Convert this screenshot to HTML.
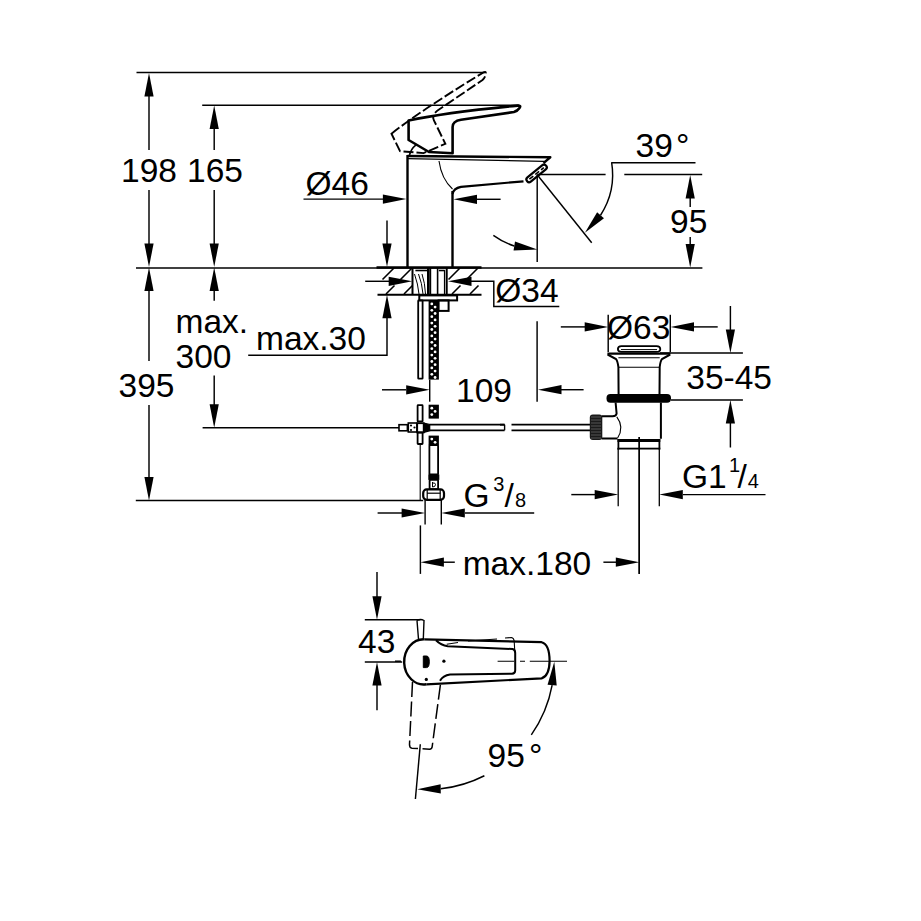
<!DOCTYPE html>
<html><head><meta charset="utf-8"><style>
html,body{margin:0;padding:0;background:#fff;width:921px;height:921px;overflow:hidden}
svg{display:block}
text{font-family:"Liberation Sans",sans-serif;fill:#000;stroke:none}
</style></head><body>
<svg width="921" height="921" viewBox="0 0 921 921" stroke="#000" stroke-linecap="butt" fill="none">
<line x1="136.5" y1="72.5" x2="484.5" y2="72.5" stroke-width="1.45" />
<line x1="202.2" y1="105.2" x2="519" y2="105.2" stroke-width="1.45" />
<line x1="136" y1="267.9" x2="702.4" y2="267.9" stroke-width="1.5" />
<line x1="376.5" y1="267.5" x2="481.5" y2="267.5" stroke-width="2.4" />
<polygon points="149.00,73.00 153.60,96.50 144.40,96.50" fill="#000" stroke="none"/>
<line x1="149" y1="96" x2="149" y2="150" stroke-width="1.45" />
<line x1="149" y1="190" x2="149" y2="244" stroke-width="1.45" />
<polygon points="149.00,267.00 144.40,243.50 153.60,243.50" fill="#000" stroke="none"/>
<polygon points="214.20,105.50 218.80,129.00 209.60,129.00" fill="#000" stroke="none"/>
<line x1="214.2" y1="128" x2="214.2" y2="150" stroke-width="1.45" />
<line x1="214.2" y1="190" x2="214.2" y2="244" stroke-width="1.45" />
<polygon points="214.20,267.00 209.60,243.50 218.80,243.50" fill="#000" stroke="none"/>
<text x="121" y="181.70000000000002" font-size="33.5" >198</text>
<text x="187" y="181.70000000000002" font-size="33.5" >165</text>
<polygon points="149.00,267.50 153.60,291.00 144.40,291.00" fill="#000" stroke="none"/>
<line x1="149" y1="290" x2="149" y2="361" stroke-width="1.45" />
<line x1="149" y1="405" x2="149" y2="478" stroke-width="1.45" />
<polygon points="149.00,500.40 144.40,476.90 153.60,476.90" fill="#000" stroke="none"/>
<line x1="135.8" y1="500.4" x2="423.2" y2="500.4" stroke-width="1.45" />
<text x="118.5" y="397.2" font-size="33.5" >395</text>
<polygon points="214.20,267.50 218.80,291.00 209.60,291.00" fill="#000" stroke="none"/>
<line x1="214.2" y1="290" x2="214.2" y2="300.7" stroke-width="1.45" />
<line x1="214.2" y1="375.6" x2="214.2" y2="405" stroke-width="1.45" />
<polygon points="214.20,427.70 209.60,404.20 218.80,404.20" fill="#000" stroke="none"/>
<line x1="202.6" y1="427.7" x2="399" y2="427.7" stroke-width="1.45" />
<text x="175.5" y="333.4" font-size="33.5" >max.</text>
<text x="175.5" y="367.9" font-size="33.5" >300</text>
<polyline points="248.2,355.2 387,355.2 387,317" stroke-width="1.45" fill="none" />
<polygon points="387.00,294.70 391.60,318.20 382.40,318.20" fill="#000" stroke="none"/>
<line x1="387" y1="220.4" x2="387" y2="244" stroke-width="1.45" />
<polygon points="387.00,267.00 382.40,243.50 391.60,243.50" fill="#000" stroke="none"/>
<text x="256" y="350.0" font-size="33.5" >max.30</text>
<line x1="365.2" y1="281.3" x2="390" y2="281.3" stroke-width="1.45" />
<polygon points="412.20,281.30 388.70,285.90 388.70,276.70" fill="#000" stroke="none"/>
<polygon points="448.00,281.30 471.50,276.70 471.50,285.90" fill="#000" stroke="none"/>
<polyline points="470,281.3 493.8,281.3 493.8,306.5 559.3,306.5" stroke-width="1.45" fill="none" />
<text x="495.2" y="302.4" font-size="33.5" >Ø34</text>
<line x1="377.5" y1="294.7" x2="481.5" y2="294.7" stroke-width="2" />
<line x1="394" y1="268" x2="382.5" y2="279.5" stroke-width="1.6" />
<line x1="412" y1="268" x2="400.5" y2="279.5" stroke-width="1.6" />
<line x1="394.5" y1="285.5" x2="386" y2="294" stroke-width="1.6" />
<line x1="412.5" y1="285.5" x2="404" y2="294" stroke-width="1.6" />
<line x1="460" y1="268" x2="448.5" y2="279.5" stroke-width="1.6" />
<line x1="478" y1="268" x2="466.5" y2="279.5" stroke-width="1.6" />
<line x1="460.5" y1="285.5" x2="452" y2="294" stroke-width="1.6" />
<line x1="478.5" y1="285.5" x2="470" y2="294" stroke-width="1.6" />
<line x1="407.5" y1="155" x2="407.5" y2="267" stroke-width="2.4" />
<line x1="452.5" y1="191" x2="452.5" y2="267" stroke-width="2.4" />
<path d="M407.5,156 L550.3,157.3 L543.5,163" stroke-width="2.4" fill="none" stroke-linejoin="round"/>
<path d="M407.5,158.6 L544,161.3" stroke-width="1.2" fill="none" />
<rect x="524.35" y="170.70" width="24.5" height="5.4" rx="2.6" fill="none" stroke-width="2.2" transform="rotate(-39 536.6 173.4)"/>
<line x1="527.35" y1="173.4" x2="545.85" y2="173.4" stroke-width="1.6" stroke-dasharray="5 2.5" transform="rotate(-39 536.6 173.4)"/>
<path d="M523.5,181.3 L461,186.8 Q453.5,188.3 452.5,194" stroke-width="2.2" fill="none" />
<path d="M439,161 Q441.5,179 452.5,189" stroke-width="1.1" fill="none" />
<path d="M408.6,120.5 Q445,112.5 517.5,105.6 Q521.5,105.5 519.5,108 Q517.5,111 513.9,112 L461,119.7 Q452.6,121 452.6,127 L452.6,153.2 L429,152 L408.6,140 Z" stroke-width="2.6" fill="none" stroke-linejoin="round"/>
<path d="M409.5,155 Q411,149 416,144.9" stroke-width="1.6" fill="none" />
<path d="M408.6,120.5 Q445,112.5 517.5,105.6 Q521.5,105.5 519.5,108 Q517.5,111 513.9,112 L461,119.7 Q452.6,121 452.6,127 L452.6,153.2 L429,152 L408.6,140 Z" stroke-width="1.9" fill="none" stroke-dasharray="10 3" transform="rotate(-25.9 428.7 164.3)"/>
<line x1="303.5" y1="199.1" x2="384" y2="199.1" stroke-width="1.45" />
<polygon points="406.40,199.10 382.90,203.70 382.90,194.50" fill="#000" stroke="none"/>
<polygon points="453.50,199.30 477.00,194.70 477.00,203.90" fill="#000" stroke="none"/>
<line x1="476" y1="199.3" x2="500.6" y2="199.3" stroke-width="1.45" />
<text x="305.5" y="194.6" font-size="33.5" >Ø46</text>
<line x1="537.4" y1="174.4" x2="605.6" y2="174.4" stroke-width="1.45" />
<line x1="624.3" y1="174.4" x2="702.2" y2="174.4" stroke-width="1.45" />
<line x1="611.3" y1="162.7" x2="695.5" y2="162.7" stroke-width="1.45" />
<line x1="537.4" y1="175" x2="591.7" y2="242.7" stroke-width="1.45" />
<line x1="537.2" y1="174.4" x2="537.2" y2="262" stroke-width="1.45" />
<path d="M611.64,162.44 A75.2,75.2 0 0 1 600.54,215.25" stroke-width="1.45" fill="none" />
<polygon points="584.92,232.68 597.11,212.18 603.96,218.32" fill="#000" stroke="none"/>
<path d="M493.35,235.34 A75.2,75.2 0 0 0 514.28,245.96" stroke-width="1.45" fill="none" />
<polygon points="537.40,249.60 513.56,250.50 515.00,241.41" fill="#000" stroke="none"/>
<polygon points="690.20,175.00 694.80,198.50 685.60,198.50" fill="#000" stroke="none"/>
<line x1="690.2" y1="198" x2="690.2" y2="207" stroke-width="1.45" />
<line x1="690.2" y1="237" x2="690.2" y2="245" stroke-width="1.45" />
<polygon points="690.20,267.50 685.60,244.00 694.80,244.00" fill="#000" stroke="none"/>
<text x="635.6" y="157.4" font-size="33.5" >39</text>
<text x="676" y="157.4" font-size="33.5" >°</text>
<text x="670" y="233.4" font-size="33.5" >95</text>
<line x1="412.5" y1="267" x2="412.5" y2="294.7" stroke-width="2" />
<line x1="446.7" y1="267" x2="446.7" y2="294.7" stroke-width="2" />
<rect x="427" y="268" width="2.8" height="26.5" fill="#000" stroke="none"/>
<line x1="430.6" y1="268" x2="430.6" y2="294.7" stroke-width="1.2" />
<line x1="437.6" y1="268" x2="437.6" y2="294.7" stroke-width="1.6" />
<line x1="444.5" y1="270" x2="444.5" y2="294.7" stroke-width="1.2" />
<line x1="415.4" y1="270.5" x2="429" y2="270.5" stroke-width="1.6" />
<line x1="438.9" y1="270.5" x2="444.7" y2="270.5" stroke-width="1.6" />
<path d="M414.5,274 Q418,284 419,294" stroke-width="1.0" fill="none" />
<path d="M418.5,274 Q422,283 423,294" stroke-width="1.0" fill="none" />
<path d="M422,274 Q425,283 425.5,294" stroke-width="1.0" fill="none" />
<rect x="419.3" y="295.4" width="37.8" height="5" fill="none" stroke-width="2"/>
<rect x="438.6" y="300.4" width="10" height="10.5" fill="none" stroke-width="2"/>
<rect x="418.2" y="300.4" width="4.400000000000034" height="78.30000000000001" fill="none" stroke-width="1.8" rx="0.5"/>
<rect x="417.6" y="405.2" width="5.0" height="16.30000000000001" fill="none" stroke-width="1.8" rx="0.5"/>
<rect x="417.6" y="432.5" width="5.0" height="11.5" fill="none" stroke-width="1.8" rx="0.5"/>
<rect x="428.6" y="300.4" width="10.299999999999955" height="79.20000000000005" fill="#000" stroke="none"/>
<circle cx="431.8" cy="303.9" r="1.4" fill="#fff" stroke="none"/>
<circle cx="435.1" cy="307.1" r="1.4" fill="#fff" stroke="none"/>
<circle cx="431.8" cy="310.3" r="1.4" fill="#fff" stroke="none"/>
<circle cx="435.1" cy="313.5" r="1.4" fill="#fff" stroke="none"/>
<circle cx="431.8" cy="316.7" r="1.4" fill="#fff" stroke="none"/>
<circle cx="435.1" cy="319.9" r="1.4" fill="#fff" stroke="none"/>
<circle cx="431.8" cy="323.1" r="1.4" fill="#fff" stroke="none"/>
<circle cx="435.1" cy="326.3" r="1.4" fill="#fff" stroke="none"/>
<circle cx="431.8" cy="329.5" r="1.4" fill="#fff" stroke="none"/>
<circle cx="435.1" cy="332.7" r="1.4" fill="#fff" stroke="none"/>
<circle cx="431.8" cy="335.9" r="1.4" fill="#fff" stroke="none"/>
<circle cx="435.1" cy="339.1" r="1.4" fill="#fff" stroke="none"/>
<circle cx="431.8" cy="342.3" r="1.4" fill="#fff" stroke="none"/>
<circle cx="435.1" cy="345.5" r="1.4" fill="#fff" stroke="none"/>
<circle cx="431.8" cy="348.7" r="1.4" fill="#fff" stroke="none"/>
<circle cx="435.1" cy="351.9" r="1.4" fill="#fff" stroke="none"/>
<circle cx="431.8" cy="355.1" r="1.4" fill="#fff" stroke="none"/>
<circle cx="435.1" cy="358.3" r="1.4" fill="#fff" stroke="none"/>
<circle cx="431.8" cy="361.5" r="1.4" fill="#fff" stroke="none"/>
<circle cx="435.1" cy="364.7" r="1.4" fill="#fff" stroke="none"/>
<circle cx="431.8" cy="367.9" r="1.4" fill="#fff" stroke="none"/>
<circle cx="435.1" cy="371.1" r="1.4" fill="#fff" stroke="none"/>
<circle cx="431.8" cy="374.3" r="1.4" fill="#fff" stroke="none"/>
<circle cx="435.1" cy="377.5" r="1.4" fill="#fff" stroke="none"/>
<rect x="428.6" y="404.7" width="10.299999999999955" height="13.900000000000034" fill="#000" stroke="none"/>
<circle cx="431.8" cy="408.2" r="1.4" fill="#fff" stroke="none"/>
<circle cx="435.1" cy="411.4" r="1.4" fill="#fff" stroke="none"/>
<circle cx="431.8" cy="414.6" r="1.4" fill="#fff" stroke="none"/>
<rect x="428.6" y="435.6" width="10.299999999999955" height="9.599999999999966" fill="#000" stroke="none"/>
<circle cx="431.8" cy="439.1" r="1.4" fill="#fff" stroke="none"/>
<circle cx="435.1" cy="442.3" r="1.4" fill="#fff" stroke="none"/>
<rect x="429.4" y="445.2" width="8.700000000000045" height="29.30000000000001" fill="none" stroke-width="1.8" rx="0.5"/>
<rect x="428.3" y="474.5" width="11" height="5.4" fill="#000" stroke="none"/>
<rect x="429.6" y="479.9" width="8.5" height="9.200000000000045" fill="none" stroke-width="1.8" rx="0.5"/>
<path d="M432.5,482 L432.5,487 Q435.5,487 435.5,484.5 Q435.5,482.5 432.5,483" stroke-width="1.0" fill="none" />
<rect x="423.2" y="489.4" width="20.8" height="10.4" rx="3.5" fill="none" stroke-width="2.2"/>
<line x1="427" y1="493.2" x2="440.5" y2="493.2" stroke-width="1.2" />
<line x1="427.2" y1="490" x2="427.2" y2="499.5" stroke-width="1.2" />
<line x1="440.2" y1="490" x2="440.2" y2="499.5" stroke-width="1.2" />
<line x1="425.1" y1="500" x2="425.1" y2="524.4" stroke-width="1.4" />
<line x1="441.3" y1="500" x2="441.3" y2="524.4" stroke-width="1.4" />
<line x1="420.2" y1="444" x2="420.2" y2="500" stroke-width="1.1" />
<line x1="420.4" y1="525.4" x2="420.4" y2="573.9" stroke-width="1.45" />
<line x1="429.7" y1="379.6" x2="429.7" y2="401.7" stroke-width="1.45" />
<line x1="382" y1="389.8" x2="406" y2="389.8" stroke-width="1.45" />
<polygon points="429.70,389.80 406.20,394.40 406.20,385.20" fill="#000" stroke="none"/>
<line x1="537.1" y1="321.3" x2="537.1" y2="401.7" stroke-width="1.45" />
<polygon points="538.00,389.70 561.50,385.10 561.50,394.30" fill="#000" stroke="none"/>
<line x1="560" y1="389.7" x2="583.6" y2="389.7" stroke-width="1.45" />
<text x="456" y="402.09999999999997" font-size="33.5" >109</text>
<rect x="399" y="424.7" width="8.4" height="6.1" fill="none" stroke-width="1.6"/>
<rect x="408.3" y="423" width="8.6" height="9" fill="#fff" stroke-width="1.6"/>
<circle cx="411" cy="425.5" r="1.1" fill="#000" stroke="none"/>
<circle cx="414.5" cy="427.5" r="1.1" fill="#000" stroke="none"/>
<circle cx="411" cy="430" r="1.1" fill="#000" stroke="none"/>
<rect x="417.2" y="423.2" width="6.5" height="9.2" fill="none" stroke-width="1.8"/>
<path d="M423.7,423.2 L429.7,424.5 L429.7,430.8 L423.7,432.4 Z" stroke-width="1.2" fill="#000" />
<line x1="429.7" y1="424.7" x2="504.6" y2="424.7" stroke-width="1.8" />
<line x1="429.7" y1="430.3" x2="504.6" y2="430.3" stroke-width="1.8" />
<line x1="504.6" y1="424.7" x2="504.6" y2="430.3" stroke-width="1.4" />
<line x1="511.5" y1="424.7" x2="591" y2="424.7" stroke-width="1.8" />
<line x1="511.5" y1="430.3" x2="591" y2="430.3" stroke-width="1.8" />
<line x1="500" y1="424.7" x2="504.6" y2="424.7" stroke-width="1.8" />
<line x1="608.2" y1="314.8" x2="608.2" y2="352.1" stroke-width="1.45" />
<line x1="670.3" y1="314.8" x2="670.3" y2="352.1" stroke-width="1.45" />
<line x1="560.8" y1="326.9" x2="585" y2="326.9" stroke-width="1.45" />
<polygon points="608.20,326.90 584.70,331.50 584.70,322.30" fill="#000" stroke="none"/>
<polygon points="670.50,326.90 694.00,322.30 694.00,331.50" fill="#000" stroke="none"/>
<line x1="694" y1="326.9" x2="717.7" y2="326.9" stroke-width="1.45" />
<text x="607" y="338.59999999999997" font-size="33.5" >Ø63</text>
<path d="M621.5,346.2 L656.5,346.2 Q660.3,346.4 660.3,349 Q660.3,351.9 656.5,351.9 L621.5,351.9 Q617.9,351.9 617.9,349 Q617.9,346.4 621.5,346.2 Z" stroke-width="1.8" fill="none" />
<line x1="621" y1="349.6" x2="657" y2="349.6" stroke-width="1.0" />
<line x1="607.4" y1="353.6" x2="670.4" y2="353.6" stroke-width="2.4" />
<path d="M607.6,354.5 L616,359 Q617.6,361 618.4,367 L618.6,394 M670.2,354.5 L662,359 Q660.4,361 659.7,367 L659.5,394" stroke-width="2.0" fill="none" />
<line x1="618.4" y1="357.8" x2="659.7" y2="357.8" stroke-width="1.1" />
<line x1="618.4" y1="367.3" x2="659.7" y2="367.3" stroke-width="1.1" />
<rect x="606.5" y="394" width="64.5" height="8.7" rx="4" fill="#000" stroke="none"/>
<path d="M615.6,402.5 L616.6,413.5 Q616.4,416.2 612.6,416.2 L601.7,416.2 M601.7,438.4 L617.5,438.4 M660.9,402.5 L660.9,438.8" stroke-width="2.0" fill="none" />
<path d="M616.8,416.8 Q624.5,427 617.6,438" stroke-width="1.1" fill="none" />
<rect x="589.8" y="414.5" width="12.5" height="25.5" rx="3" fill="#1a1a1a" stroke="none"/>
<line x1="591" y1="417" x2="601" y2="417" stroke="#666" stroke-width="0.8"/>
<line x1="591" y1="420" x2="601" y2="420" stroke="#666" stroke-width="0.8"/>
<line x1="591" y1="423" x2="601" y2="423" stroke="#666" stroke-width="0.8"/>
<line x1="591" y1="426" x2="601" y2="426" stroke="#666" stroke-width="0.8"/>
<line x1="591" y1="429" x2="601" y2="429" stroke="#666" stroke-width="0.8"/>
<line x1="591" y1="432" x2="601" y2="432" stroke="#666" stroke-width="0.8"/>
<line x1="591" y1="435" x2="601" y2="435" stroke="#666" stroke-width="0.8"/>
<line x1="591" y1="438" x2="601" y2="438" stroke="#666" stroke-width="0.8"/>
<rect x="617.5" y="439" width="42.8" height="3" fill="#000" stroke="none"/>
<rect x="617.5" y="447.7" width="42.8" height="1.8" fill="#000" stroke="none"/>
<line x1="618.4" y1="439" x2="618.4" y2="449.5" stroke-width="1.8" />
<line x1="659.4" y1="439" x2="659.4" y2="449.5" stroke-width="1.8" />
<line x1="618.2" y1="448.6" x2="618.2" y2="506.3" stroke-width="1.3" />
<line x1="659.3" y1="448.6" x2="659.3" y2="506.3" stroke-width="1.3" />
<line x1="639.2" y1="436.9" x2="639.2" y2="573.9" stroke-width="1.45" />
<line x1="660" y1="353" x2="742.9" y2="353" stroke-width="1.45" />
<line x1="671" y1="399.9" x2="742.9" y2="399.9" stroke-width="1.45" />
<line x1="730.4" y1="306" x2="730.4" y2="330" stroke-width="1.45" />
<polygon points="730.40,353.00 725.80,329.50 735.00,329.50" fill="#000" stroke="none"/>
<polygon points="730.40,400.00 735.00,423.50 725.80,423.50" fill="#000" stroke="none"/>
<line x1="730.4" y1="423" x2="730.4" y2="447.5" stroke-width="1.45" />
<text x="686.3" y="388.9" font-size="33.5" >35-45</text>
<line x1="377.6" y1="513" x2="402" y2="513" stroke-width="1.45" />
<polygon points="425.10,513.00 401.60,517.60 401.60,508.40" fill="#000" stroke="none"/>
<polygon points="441.30,513.00 464.80,508.40 464.80,517.60" fill="#000" stroke="none"/>
<line x1="465" y1="513" x2="534.2" y2="513" stroke-width="1.45" />
<text x="463.5" y="506.9" font-size="33.5" >G</text>
<text x="493.3" y="490.9" font-size="20" >3</text>
<text x="504.5" y="506.9" font-size="33.5" >/</text>
<text x="515" y="506.9" font-size="20" >8</text>
<line x1="571.3" y1="494.6" x2="595" y2="494.6" stroke-width="1.45" />
<polygon points="618.20,494.60 594.70,499.20 594.70,490.00" fill="#000" stroke="none"/>
<polygon points="659.30,494.60 682.80,490.00 682.80,499.20" fill="#000" stroke="none"/>
<line x1="683" y1="494.6" x2="765.5" y2="494.6" stroke-width="1.45" />
<text x="682" y="488.4" font-size="33.5" >G1</text>
<text x="729" y="471.9" font-size="20" >1</text>
<text x="737.5" y="488.4" font-size="33.5" >/</text>
<text x="747.8" y="488.4" font-size="20" >4</text>
<line x1="639.3" y1="437" x2="639.3" y2="573.9" stroke-width="1.45" />
<polygon points="420.40,562.20 443.90,557.60 443.90,566.80" fill="#000" stroke="none"/>
<line x1="443" y1="562.2" x2="454.8" y2="562.2" stroke-width="1.45" />
<line x1="603.4" y1="562.2" x2="616" y2="562.2" stroke-width="1.45" />
<polygon points="639.30,562.20 615.80,566.80 615.80,557.60" fill="#000" stroke="none"/>
<text x="462.7" y="574.6" font-size="33.5" >max.180</text>
<line x1="377" y1="572" x2="377" y2="597" stroke-width="1.45" />
<polygon points="377.00,619.80 372.40,596.30 381.60,596.30" fill="#000" stroke="none"/>
<line x1="364.8" y1="619.8" x2="420.4" y2="619.8" stroke-width="1.45" />
<line x1="364.8" y1="662" x2="402.2" y2="662" stroke-width="1.45" />
<polygon points="377.00,662.00 381.60,685.50 372.40,685.50" fill="#000" stroke="none"/>
<line x1="377" y1="685" x2="377" y2="710.2" stroke-width="1.45" />
<text x="358" y="652.9" font-size="33.5" >43</text>
<path d="M417,620.5 Q420.5,618.5 424,620.5 L423.3,639.3 M417,620.5 L418.5,639.3" stroke-width="1.4" fill="none" />
<path d="M424.3,639.3 A19.6,22.6 0 1 0 426.3,684.3" stroke-width="2.4" fill="none" />
<path d="M424.3,639.3 L541.6,642.2 Q549.4,644 549.6,660.8 Q549.4,676 541.6,678.4 L426.3,684.3" stroke-width="2.2" fill="none" />
<path d="M436,640.3 Q441,645.5 447.8,646.2 L512.5,649 Q515.2,649.5 515.2,653 L515.2,670.5 Q515.2,673.5 512,673.8 L450,674.5 Q443,675.5 440,680.8" stroke-width="2.0" fill="none" />
<path d="M423.3,656 L426.5,656 Q429.3,656 429.3,661.8 Q429.3,667.6 426.5,667.6 L423.3,667.6 Z" stroke-width="1.0" fill="#000" />
<circle cx="443.9" cy="661.2" r="1.6" fill="#000" stroke="none"/>
<circle cx="426.3" cy="679.4" r="1.6" fill="#000" stroke="none"/>
<path d="M446.7,644.2 L458,642.5 M468,641 L497,639 M505,638 L511.5,637.5 Q513.8,638 514.2,641 L514.8,652" stroke-width="1.1" fill="none" />
<line x1="395" y1="661.2" x2="400.9" y2="661.2" stroke-width="1.45" />
<path d="M497.6,661.2 L514.2,661.2 M520,661.2 L525,661.2 M529.8,661.2 L567,661.2" stroke-width="1.1" fill="none" />
<path d="M531.31,734.93 A127.8,127.8 0 0 0 552.15,685.17" stroke-width="1.45" fill="none" />
<polygon points="554.30,661.80 556.73,685.59 547.56,684.75" fill="#000" stroke="none"/>
<path d="M484.38,775.74 A127.8,127.8 0 0 1 440.72,788.81" stroke-width="1.45" fill="none" />
<polygon points="417.26,789.27 440.63,784.21 440.81,793.41" fill="#000" stroke="none"/>
<path d="M412.5,682 L409.5,744.5 Q409.5,748 412,748.2 L429.5,749.2 Q432,749.2 432.2,746.5 L440.8,681.7" stroke-width="1.5" fill="none" stroke-dasharray="15 4.5"/>
<line x1="420.3" y1="744.3" x2="415.4" y2="799" stroke-width="1.45" />
<text x="487.5" y="766.9" font-size="33.5" >95</text>
<text x="529" y="766.9" font-size="33.5" >°</text>
</svg>
</body></html>
